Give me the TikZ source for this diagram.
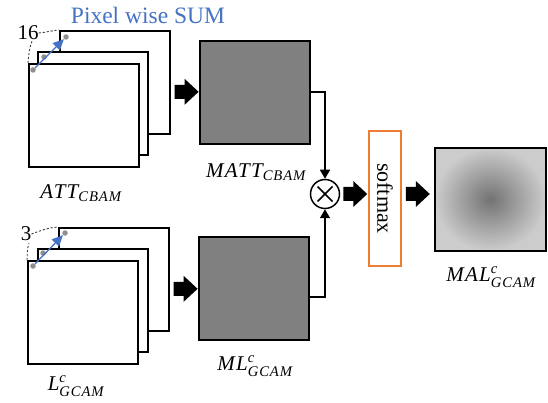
\documentclass[tikz,border=0pt]{standalone}
\usepackage{amsmath}
\usepackage{fontspec}
\setmainfont{Liberation Serif}
\newfontfamily\labfont[LetterSpace=6.0]{Liberation Serif}
\usetikzlibrary{arrows.meta,calc}
\definecolor{pblue}{HTML}{4472C4}
\definecolor{porange}{HTML}{ED7D31}
\definecolor{dotgray}{HTML}{8F8F8F}
\newcommand{\lt}[1]{\text{\labfont\itshape #1}}
\tikzset{
  sheet/.style={draw=black, line width=1.6pt, fill=white, minimum width=110pt, minimum height=103pt, inner sep=0pt, anchor=north west},
  graybox/.style={draw=black, line width=1.6pt, fill=black!50, minimum width=110pt, minimum height=103pt, inner sep=0pt, anchor=north west},
  lbl/.style={inner sep=0pt, font=\fontsize{21}{23}\selectfont},
  pdot/.style={circle, fill=dotgray, minimum size=5.5pt, inner sep=0pt},
  dashlink/.style={dash pattern=on 2.2pt off 1.8pt, line width=0.9pt, black!75},
  bluearrow/.style={pblue, line width=1.3pt, -{Triangle[length=11pt,width=10pt]}},
  link/.style={line width=1.6pt, -{Triangle[length=9pt,width=10pt]}},
}
\newcommand{\blockarr}[1]{\fill[black] (#1) +(0,-7) -- +(10,-7) -- +(10,-13) -- +(24,0) -- +(10,13) -- +(10,7) -- +(0,7) -- cycle;}
\begin{document}
\begin{tikzpicture}[x=1pt,y=-1pt]
\useasboundingbox (0,0) rectangle (548,403);
% ---- top stack
\node[sheet] (back1) at (59,30) {};
\node[sheet] (mid1) at (37,51) {};
\node[sheet] (front1) at (28,63) {};
\node[pdot] (d1a) at (33,70) {};
\node[pdot] (d1b) at (44,57) {};
\node[pdot] (d1c) at (66,37) {};
\draw[bluearrow] (d1a) -- (d1c);
\node[inner sep=0pt, font=\fontsize{21}{22}\selectfont] (n16) at (28,33) {16};
\draw[dashlink] (n16.east) to[out=5,in=185] (back1.north west);
\draw[dashlink] (front1.north west) to[out=85,in=250] ($(n16.south)+(4,1)$);
\node[inner sep=0pt, text=pblue, font=\fontsize{23.5}{25}\selectfont, anchor=base] (psum) at (148,24) {Pixel wise SUM};
\node[lbl] (att) at (81,193) {$\lt{ATT}_{\lt{CBAM}}$};
% ---- top gray
\node[graybox] (g1) at (199,40) {};
\node[lbl] (matt) at (256,172) {$\lt{MATT}_{\lt{CBAM}}$};
% ---- bottom stack
\node[sheet] (back2) at (58,227) {};
\node[sheet] (mid2) at (37,248) {};
\node[sheet] (front2) at (27,260) {};
\node[pdot] (d2a) at (33,266) {};
\node[pdot] (d2b) at (43,253) {};
\node[pdot] (d2c) at (65,233) {};
\draw[bluearrow] (d2a) -- (d2c);
\node[inner sep=0pt, font=\fontsize{21}{22}\selectfont] (n3) at (26,234) {3};
\draw[dashlink] (n3.east) to[out=20,in=185] (back2.north west);
\draw[dashlink] (front2.north west) to[out=85,in=250] ($(n3.south)+(3,2)$);
\node[lbl] (lg) at (76,386) {$\lt{L}^{\lt{c}}_{\lt{GCAM}}$};
% ---- bottom gray
\node[graybox] (g2) at (198,236) {};
\node[lbl] (mlg) at (255,366) {$\lt{ML}^{\lt{c}}_{\lt{GCAM}}$};
% ---- block arrows
\coordinate (ba1) at ($(back1.east |- g1.west)+(4,-0.5)$);
\blockarr{ba1}
\coordinate (ba2) at ($(back2.east |- g2.west)+(4,0.5)$);
\blockarr{ba2}
% ---- multiply
\node[circle, draw=black, line width=1.5pt, minimum size=29pt, inner sep=0pt] (mul) at (325,194) {};
\draw[line width=1.5pt] ($(mul)+(-7.5,-7.5)$) -- ($(mul)+(7.5,7.5)$);
\draw[line width=1.5pt] ($(mul)+(-7.5,7.5)$) -- ($(mul)+(7.5,-7.5)$);
\draw[link] ($(g1.north east)+(0,52)$) -| (mul.north);
\draw[link] ($(g2.north east)+(0,61)$) -| (mul.south);
% ---- softmax
\node[draw=porange, line width=1.6pt, fill=white, minimum width=32pt, minimum height=135pt, inner sep=0pt] (soft) at (385,198.5) {};
\node[rotate=-90, inner sep=0pt, font=\fontsize{22}{24}\selectfont] (softt) at (soft.center) {softmax};
\coordinate (ba3) at ($(mul.east)+(3,0)$);
\blockarr{ba3}
\coordinate (ba4) at ($(soft.east |- mul.east)+(4,0)$);
\blockarr{ba4}
% ---- MAL
\node[draw=black, line width=1.6pt, minimum width=111pt, minimum height=103pt, inner sep=0pt, anchor=north west, inner color=black!55, outer color=black!20] (mal) at (434,147) {};
\node[lbl] (malt) at (491,277) {$\lt{MAL}^{\lt{c}}_{\lt{GCAM}}$};
\end{tikzpicture}
\end{document}
